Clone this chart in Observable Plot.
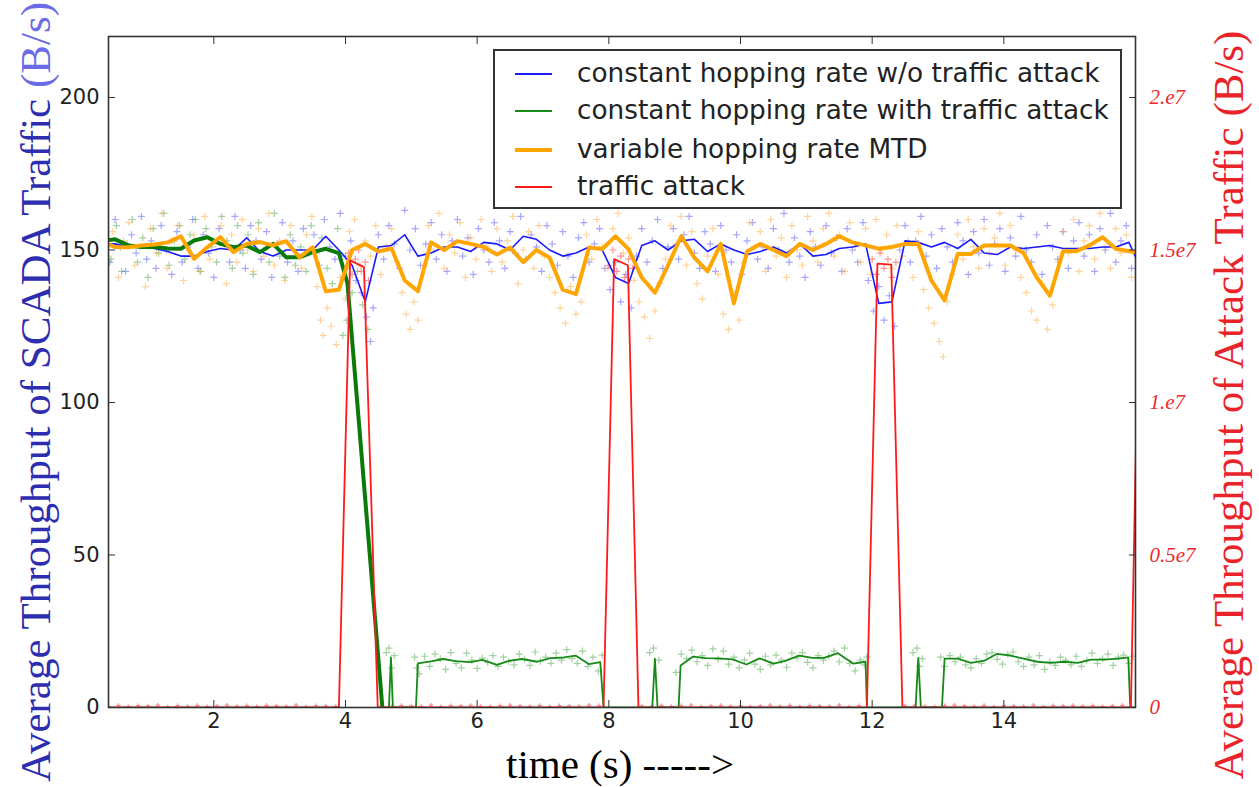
<!DOCTYPE html>
<html><head><meta charset="utf-8">
<script src="https://cdn.jsdelivr.net/npm/d3@7"></script>
<script src="https://cdn.jsdelivr.net/npm/@observablehq/plot@0.6"></script>
<style>
body{margin:0;background:#fff;}
#wrap{position:relative;width:1259px;height:787px;overflow:hidden;background:#fff;}
.lbl{position:absolute;white-space:nowrap;font-family:"Liberation Serif","Times New Roman",serif;line-height:1;}
#legend{position:absolute;left:493px;top:49px;width:629px;height:160px;box-sizing:border-box;border:2px solid #333;background:#fff;font-family:"DejaVu Sans",sans-serif;font-size:26.3px;color:#222;}
.row{position:absolute;left:0;height:0;}
.sw{position:absolute;left:20px;width:37px;}
.tx{position:absolute;left:82px;top:-16px;white-space:nowrap;line-height:30px;}
</style></head><body><div id="wrap"></div>
<script>
// ---------- data ----------
const lineTimes = [0.3,0.5,0.7,0.9,1.1,1.3,1.5,1.7,1.9,2.1,2.3,2.5,2.7,2.9,3.1,3.3,3.5,3.7,3.9,4.1,4.3,4.5,4.7,4.9,5.1,5.3,5.5,5.7,5.9,6.1,6.3,6.5,6.7,6.9,7.1,7.3,7.5,7.7,7.9,8.1,8.3,8.5,8.7,8.9,9.1,9.3,9.5,9.7,9.9,10.1,10.3,10.5,10.7,10.9,11.1,11.3,11.5,11.7,11.9,12.1,12.3,12.5,12.7,12.9,13.1,13.3,13.5,13.7,13.9,14.1,14.3,14.5,14.7,14.9,15.1,15.3,15.5,15.7,15.9,16.1];
const blueNoAttack = [152,152,151,151,150.5,149.5,148,148,149.5,150.5,150,154,149.5,148,150,150,150,154.5,150,145,133,151,151.5,155,148,149,151,151,149.5,152.5,152,150,154.5,153.5,150,148,149,151,150,141,139,151.5,153,150,153,153.5,149.5,152,150,148.5,149.5,151,149,152,148,148.5,150.5,151,152,132.5,133,153,152.5,151,152.5,150.5,153.5,149,148.5,151,150.5,151,151.5,150.5,150.5,150.5,151,151,152.5,143];
const orangeMTD = [152.5,151,150.9,151.5,151.8,152.5,154.5,147.1,150.9,154.2,149.3,152,152.6,151.5,152.9,147.6,150.9,136.5,137,150,152,149.5,150.5,140,136.5,152.5,150,152.9,152,151,148.5,150.8,146,150,147.5,137,135.5,150.8,150.3,154.5,150.3,141,136,145,154.5,147.5,143,152,132.5,149.5,152,150,148,152,150,152,154.5,152.5,151.5,150.4,151,152,152,140,133.5,148.7,148.7,151.5,151.5,151.5,149,141,135,149.6,149.6,151.5,154.2,150.4,149.6,149];
const greenThickT = [0.3,0.5,0.7,0.9,1.1,1.3,1.5,1.7,1.9,2.1,2.3,2.5,2.7,2.9,3.1,3.3,3.5,3.7,3.9,4.03,4.56];
const greenThickV = [153,153.5,151.5,151,151,150.5,150.4,153.1,154.2,152,150.9,151.5,149.3,152,147.6,147.6,149.3,150.4,149,139,0];
const greenThinT = [4.56,4.66,4.69,4.72,5.07,5.1,5.32,5.49,5.67,5.9,6.08,6.3,6.48,6.68,6.91,7.11,7.32,7.5,7.7,7.87,7.92,8.66,8.7,8.74,9.06,9.09,9.28,9.47,9.67,9.88,10.09,10.29,10.5,10.67,10.89,11.09,11.27,11.48,11.71,11.9,11.92,12.66,12.7,12.74,13.06,13.1,13.3,13.5,13.71,13.9,14.1,14.3,14.51,14.71,14.92,15.12,15.33,15.53,15.74,15.89,15.92,16.1];
const greenThinV = [0,0,16.4,0,0,14.5,15.2,15.9,15.2,14.9,15.6,14,15.3,15.9,15,16.2,16.4,17,14.2,14.9,0,0,16,0,0,13.8,16.7,16.2,16.1,15.8,14.1,16.1,14.4,15.2,17,16.3,16.3,17.8,14.4,15,0,0,16.3,0,0,16,16,14.6,15.4,17.6,17,16,15,14.6,15,14.6,15.7,15.7,16,16.4,0,0];
const attackT = [0.3,3.9,4.07,4.28,4.49,7.92,8.08,8.29,8.45,11.92,12.08,12.29,12.46,15.93,16.06];
const attackV = [0,0,1.466e7,1.444e7,0,0,1.47e7,1.45e7,0,0,1.455e7,1.452e7,0,0,1.45e7];

const blueDots = [[0.35,157],[0.42,146],[0.5,160],[0.58,151],[0.66,143],[0.75,155],[0.82,149],[0.9,161],[0.98,147],[1.05,153],[1.12,144],[1.2,158],[1.28,150],[1.36,142],[1.44,156],[1.52,146],[1.6,151],[1.68,160],[1.76,144],[1.84,155],[1.92,149],[2.0,141],[2.08,157],[2.16,152],[2.24,146],[2.32,161],[2.4,150],[2.48,144],[2.56,158],[2.64,153],[2.72,147],[2.8,156],[2.88,141],[2.96,152],[3.04,159],[3.12,146],[3.2,153],[3.28,143],[3.36,157],[3.44,149],[3.52,155],[3.6,145],[3.68,160],[3.76,151],[3.84,147],[3.92,162],[4.0,148],[4.08,153],[4.16,140],[4.24,136],[4.32,128],[4.38,120],[4.42,131],[4.5,155],[4.58,147],[4.66,158],[4.74,152],[4.82,144],[4.9,163],[4.98,150],[5.06,157],[5.14,145],[5.22,152],[5.3,159],[5.38,147],[5.46,155],[5.54,143],[5.62,153],[5.7,160],[5.78,148],[5.86,154],[5.94,142],[6.02,157],[6.1,150],[6.18,146],[6.26,159],[6.34,153],[6.42,144],[6.5,156],[6.58,149],[6.66,161],[6.74,147],[6.82,155],[6.9,151],[6.98,143],[7.06,158],[7.14,152],[7.22,145],[7.3,156],[7.38,148],[7.46,141],[7.54,154],[7.62,159],[7.7,146],[7.78,152],[7.86,157],[7.94,144],[8.02,137],[8.1,146],[8.18,133],[8.26,142],[8.34,131],[8.42,148],[8.5,157],[8.58,146],[8.66,153],[8.74,160],[8.82,144],[8.9,151],[8.98,157],[9.06,147],[9.14,155],[9.22,161],[9.3,149],[9.38,144],[9.46,156],[9.54,152],[9.62,143],[9.7,158],[9.78,150],[9.86,146],[9.94,155],[10.02,142],[10.1,153],[10.18,159],[10.26,147],[10.34,151],[10.42,144],[10.5,157],[10.58,150],[10.66,162],[10.74,146],[10.82,154],[10.9,148],[10.98,141],[11.06,156],[11.14,151],[11.22,145],[11.3,158],[11.38,149],[11.46,154],[11.54,143],[11.62,157],[11.7,150],[11.78,146],[11.86,159],[11.94,140],[12.02,130],[12.1,138],[12.18,127],[12.26,135],[12.34,125],[12.42,150],[12.5,158],[12.58,146],[12.66,153],[12.74,161],[12.82,148],[12.9,155],[12.98,144],[13.06,157],[13.14,151],[13.22,146],[13.3,159],[13.38,153],[13.46,142],[13.54,156],[13.62,149],[13.7,160],[13.78,145],[13.86,152],[13.94,157],[14.02,143],[14.1,154],[14.18,148],[14.26,161],[14.34,150],[14.42,146],[14.5,155],[14.58,142],[14.66,158],[14.74,151],[14.82,147],[14.9,156],[14.98,144],[15.06,153],[15.14,159],[15.22,148],[15.3,155],[15.38,143],[15.46,157],[15.54,150],[15.62,162],[15.7,146],[15.78,153],[15.86,158],[15.94,144]];
const orangeDots = [[0.38,148],[0.46,156],[0.55,141],[0.63,153],[0.71,159],[0.8,145],[0.88,151],[0.96,138],[1.04,157],[1.13,149],[1.21,162],[1.29,144],[1.37,153],[1.45,158],[1.54,140],[1.62,150],[1.7,155],[1.78,143],[1.86,161],[1.94,147],[2.03,152],[2.11,158],[2.19,139],[2.27,155],[2.35,146],[2.43,160],[2.51,150],[2.6,143],[2.68,157],[2.76,148],[2.84,162],[2.92,145],[3.0,153],[3.08,140],[3.17,158],[3.25,149],[3.33,144],[3.41,155],[3.49,161],[3.57,138],[3.62,127],[3.66,122],[3.72,131],[3.78,125],[3.86,119],[3.92,141],[4.0,134],[4.06,156],[4.14,160],[4.22,145],[4.3,153],[4.38,148],[4.46,158],[4.54,142],[4.62,151],[4.7,157],[4.78,146],[4.86,136],[4.92,129],[4.98,124],[5.04,133],[5.1,127],[5.18,145],[5.26,158],[5.34,150],[5.42,162],[5.5,144],[5.58,155],[5.66,149],[5.74,159],[5.82,141],[5.9,154],[5.98,147],[6.06,160],[6.14,151],[6.22,143],[6.3,157],[6.38,146],[6.46,153],[6.54,161],[6.62,139],[6.7,150],[6.78,156],[6.86,144],[6.94,158],[7.02,148],[7.1,141],[7.18,136],[7.26,131],[7.34,126],[7.42,138],[7.5,129],[7.58,133],[7.66,155],[7.74,147],[7.82,160],[7.9,151],[7.98,144],[8.06,157],[8.14,162],[8.22,149],[8.3,154],[8.38,140],[8.46,133],[8.54,128],[8.62,121],[8.7,130],[8.78,139],[8.86,147],[8.94,158],[9.02,152],[9.1,161],[9.18,145],[9.26,156],[9.34,139],[9.42,134],[9.5,148],[9.58,157],[9.66,142],[9.74,129],[9.82,124],[9.9,136],[9.98,127],[10.06,146],[10.14,159],[10.22,151],[10.3,156],[10.38,143],[10.46,160],[10.54,148],[10.62,154],[10.7,141],[10.78,158],[10.86,150],[10.94,145],[11.02,161],[11.1,153],[11.18,146],[11.26,157],[11.34,162],[11.42,148],[11.5,155],[11.58,143],[11.66,159],[11.74,151],[11.82,146],[11.9,157],[11.98,142],[12.06,160],[12.14,150],[12.22,155],[12.3,144],[12.38,158],[12.46,148],[12.54,153],[12.62,141],[12.7,156],[12.78,137],[12.86,131],[12.94,126],[13.02,120],[13.08,115],[13.14,133],[13.22,142],[13.3,155],[13.38,147],[13.46,160],[13.54,151],[13.62,144],[13.7,157],[13.78,149],[13.86,154],[13.94,162],[14.02,145],[14.1,158],[14.18,150],[14.26,141],[14.34,136],[14.42,130],[14.5,127],[14.58,139],[14.66,124],[14.74,132],[14.82,146],[14.9,156],[14.98,149],[15.06,160],[15.14,143],[15.22,153],[15.3,158],[15.38,147],[15.46,162],[15.54,151],[15.62,144],[15.7,157],[15.78,149],[15.86,155],[15.94,141]];
const greenDots = [[0.36,155],[0.44,147],[0.52,158],[0.6,143],[0.68,152],[0.76,160],[0.84,146],[0.92,154],[1.0,141],[1.08,157],[1.16,149],[1.24,162],[1.32,145],[1.4,153],[1.48,158],[1.56,147],[1.64,155],[1.72,160],[1.8,143],[1.88,157],[1.96,151],[2.04,146],[2.12,161],[2.2,153],[2.28,144],[2.36,158],[2.44,149],[2.52,155],[2.6,142],[2.68,159],[2.76,150],[2.84,146],[2.92,162],[3.0,148],[3.08,141],[3.16,155],[3.24,145],[3.32,151],[3.4,143],[3.48,158],[3.56,149],[3.64,154],[3.72,144],[3.8,139],[3.88,157],[3.96,122],[4.02,127],[4.1,136],[4.18,143],[4.26,132],[4.34,124],
[4.62,18],[4.66,19.5],[4.7,13],[4.74,17],[5.05,16.5],[5.08,13],[5.12,11],[5.2,16.8],[5.28,13.5],[5.36,17.5],[5.44,16],[5.52,12.5],[5.6,18],[5.68,14.5],[5.76,13],[5.84,17.8],[5.92,15.5],[6.0,12.8],[6.08,16.2],[6.16,14.8],[6.24,17],[6.32,13.5],[6.4,16.5],[6.48,15],[6.56,14],[6.64,17.5],[6.72,15.8],[6.8,13.8],[6.88,18.2],[6.96,15.2],[7.04,16.5],[7.12,14.5],[7.2,17.8],[7.28,15.5],[7.36,19],[7.44,16],[7.52,14.5],[7.6,18.5],[7.68,13.5],[7.76,16.5],[7.84,12],[7.9,17.2],
[8.62,18],[8.68,19.5],[8.76,15.5],[9.02,11.5],[9.1,17.5],[9.18,16],[9.26,18.8],[9.34,15],[9.42,17],[9.5,13.8],[9.58,19.2],[9.66,15.8],[9.74,18.5],[9.82,14.2],[9.9,16.5],[9.98,13],[10.06,15.5],[10.14,17.8],[10.22,14.2],[10.3,12.5],[10.38,16.8],[10.46,14],[10.54,17.2],[10.62,15.5],[10.7,13.2],[10.78,17.8],[10.86,16.2],[10.94,18],[11.02,14.8],[11.1,13],[11.18,17],[11.26,15.5],[11.34,16.8],[11.42,18.5],[11.5,15],[11.58,19.5],[11.66,14.5],[11.74,12],[11.82,15.5],[11.88,14],[11.92,16.5],
[12.62,18],[12.68,19.5],[12.72,13.5],[12.76,16],[13.04,16.5],[13.1,13.5],[13.18,17],[13.26,15],[13.34,16.5],[13.42,14],[13.5,13],[13.58,16],[13.66,14.5],[13.74,17.5],[13.82,18],[13.9,15.8],[13.98,14.2],[14.06,17.5],[14.14,18.2],[14.22,15],[14.3,13.5],[14.38,16.5],[14.46,14],[14.54,17],[14.62,12.5],[14.7,15],[14.78,13.8],[14.86,16.5],[14.94,15.5],[15.02,14],[15.1,16.8],[15.18,13.5],[15.26,15.5],[15.34,17.8],[15.42,14.5],[15.5,16],[15.58,17.5],[15.66,13.8],[15.74,16.5],[15.82,17.2],[15.9,14.5],[15.96,16.8]];
const redPeakDots = [[4.0,1.44e7],[4.05,1.49e7],[4.1,1.42e7],[4.15,1.47e7],[4.2,1.5e7],[4.24,1.43e7],[4.3,1.46e7],[4.35,1.4e7],[8.0,1.45e7],[8.06,1.5e7],[8.12,1.43e7],[8.18,1.48e7],[8.24,1.41e7],[8.3,1.47e7],[8.36,1.44e7],[12.0,1.47e7],[12.06,1.42e7],[12.12,1.49e7],[12.18,1.44e7],[12.24,1.47e7],[12.3,1.41e7],[12.36,1.46e7]];
const redBaseT = [0.4,0.55,0.7,0.85,1.0,1.15,1.3,1.45,1.6,1.75,1.9,2.05,2.2,2.35,2.5,2.65,2.8,2.95,3.1,3.25,3.4,3.55,3.7,3.85,4.55,4.7,4.85,5.0,5.15,5.3,5.45,5.6,5.75,5.9,6.05,6.2,6.35,6.5,6.65,6.8,6.95,7.1,7.25,7.4,7.55,7.7,7.85,8.5,8.65,8.8,8.95,9.1,9.25,9.4,9.55,9.7,9.85,10.0,10.15,10.3,10.45,10.6,10.75,10.9,11.05,11.2,11.35,11.5,11.65,11.8,12.5,12.65,12.8,12.95,13.1,13.25,13.4,13.55,13.7,13.85,14.0,14.15,14.3,14.45,14.6,14.75,14.9,15.05,15.2,15.35,15.5,15.65,15.8];
const redBaseV = [4e4,7e4,3e4,6e4,5e4,8e4,2e4,6e4,4e4,7e4,3e4,5e4,8e4,4e4,6e4,3e4,7e4,5e4,4e4,8e4,3e4,6e4,5e4,4e4,6e4,3e4,7e4,5e4,4e4,8e4,3e4,6e4,5e4,7e4,4e4,3e4,6e4,8e4,5e4,4e4,7e4,3e4,6e4,5e4,4e4,8e4,6e4,5e4,3e4,7e4,4e4,6e4,8e4,3e4,5e4,7e4,4e4,6e4,3e4,5e4,8e4,4e4,7e4,3e4,6e4,5e4,4e4,8e4,3e4,6e4,5e4,7e4,4e4,3e4,6e4,8e4,5e4,4e4,7e4,3e4,6e4,5e4,4e4,8e4,3e4,6e4,5e4,7e4,4e4,6e4,3e4,5e4,7e4];

const xTicks = [2,4,6,8,10,12,14];
const yTicks = [0,50,100,150,200];
const rightTickVals = [0,0.5e7,1e7,1.5e7,2e7];
const rightTickLabels = ["0","0.5e7","1.e7","1.5e7","2.e7"];
const RATIO = 1e5; // 1e7 B/s on the right axis == 100 B/s on the left axis

const seriesNames = ["constant hopping rate w/o traffic attack","constant hopping rate with traffic attack","variable hopping rate MTD","traffic attack"];
const seriesColors = ["#1a1aff","#158a15","#ffa500","#ff1a1a"];

// ---------- build ----------
const blueRows = lineTimes.map((t,i)=>({t, v: blueNoAttack[i]}));
const orangeRows = lineTimes.map((t,i)=>({t, v: orangeMTD[i]}));
const gThick = greenThickT.map((t,i)=>({t, v: greenThickV[i]}));
const gThin = greenThinT.map((t,i)=>({t, v: greenThinV[i]}));
const attackRows = attackT.map((t,i)=>({t, v: attackV[i]/RATIO}));
const redPeaks = redPeakDots.map(d=>[d[0], d[1]/RATIO]);
const redBase = redBaseT.map((t,i)=>[t, redBaseV[i]/RATIO]);
const rightLabelFor = new Map(rightTickVals.map((v,i)=>[v/RATIO, rightTickLabels[i]]));

const dotOpts = (color, op, r = 2.4) => ({x: d=>d[0], y: d=>d[1], symbol: "plus", r, stroke: color, strokeOpacity: op, strokeWidth: 1.2, clip: true});

const chart = Plot.plot({
  width: 1259, height: 787,
  marginTop: 36, marginRight: 124, marginBottom: 80, marginLeft: 108,
  x: {domain: [0.4, 16]},
  y: {domain: [0, 220]},
  style: {fontFamily: "DejaVu Sans, sans-serif", color: "#222", background: "white"},
  marks: [
    Plot.dot(blueDots, dotOpts("#4d4dff", 0.5)),
    Plot.dot(greenDots, dotOpts("#2e9a2e", 0.45)),
    Plot.dot(orangeDots, dotOpts("#ffa733", 0.5)),
    Plot.dot(redPeaks, dotOpts("#ff3030", 0.5)),
    Plot.dot(redBase, dotOpts("#ff3030", 0.55, 1.5)),
    Plot.line(blueRows, {x: "t", y: "v", stroke: seriesColors[0], strokeWidth: 1.6, clip: true}),
    Plot.line(gThin, {x: "t", y: "v", stroke: seriesColors[1], strokeWidth: 1.8, clip: true}),
    Plot.line(gThick, {x: "t", y: "v", stroke: "#0a7a0a", strokeWidth: 4, clip: true}),
    Plot.line(orangeRows, {x: "t", y: "v", stroke: seriesColors[2], strokeWidth: 4, clip: true}),
    Plot.line(attackRows, {x: "t", y: "v", stroke: seriesColors[3], strokeWidth: 1.8, clip: true}),
    Plot.frame({stroke: "#333", strokeWidth: 1.6}),
    Plot.axisX({ticks: xTicks, anchor: "bottom", tickSize: 0, tickPadding: 6, label: null, fill: "#222"}),
    Plot.axisX({ticks: xTicks, anchor: "bottom", tickSize: -7, tickFormat: () => "", label: null, stroke: "#333"}),
    Plot.axisX({ticks: xTicks, anchor: "top", tickSize: -7, tickFormat: () => "", label: null, stroke: "#333"}),
    Plot.axisY({ticks: yTicks, anchor: "left", tickSize: 0, tickPadding: 9, label: null, fill: "#222"}),
    Plot.axisY({ticks: yTicks, anchor: "left", tickSize: -7, tickFormat: () => "", label: null, stroke: "#333"}),
    Plot.axisY({ticks: yTicks, anchor: "right", tickSize: -7, tickFormat: () => "", label: null, stroke: "#333"}),
    Plot.axisY({ticks: rightTickVals.map(v => v/RATIO), anchor: "right", tickSize: 0, tickPadding: 14, label: null,
      tickFormat: d => rightLabelFor.get(d), fill: "#ee2a2a", fontStyle: "italic", fontFamily: "Liberation Serif, serif", fontSize: 21})
  ]
});

// size of the sans tick labels (inline style wins over any stylesheet)
d3.select(chart).selectAll('g[aria-label="x-axis tick label"] text').style("font-size", "21px");
d3.select(chart).selectAll('g[aria-label="y-axis tick label"]').filter(function(){ return this.getAttribute("font-style") !== "italic"; }).selectAll("text").style("font-size", "21px");

const wrap = document.getElementById("wrap");
wrap.appendChild(chart);

// legend
const legend = document.createElement("div");
legend.id = "legend";
const rowY = [23, 60, 99, 136];
const swW = [2, 2, 4.5, 2];
seriesNames.forEach((name, i) => {
  const row = document.createElement("div");
  row.className = "row";
  row.style.top = rowY[i] + "px";
  const sw = document.createElement("div");
  sw.className = "sw";
  sw.style.height = swW[i] + "px";
  sw.style.top = (-swW[i]/2) + "px";
  sw.style.background = seriesColors[i];
  const tx = document.createElement("div");
  tx.className = "tx";
  tx.textContent = name;
  row.appendChild(sw); row.appendChild(tx);
  legend.appendChild(row);
});
wrap.appendChild(legend);

// axis titles
function label(html, cx, cy, size, color, rotate) {
  const d = document.createElement("div");
  d.className = "lbl";
  d.innerHTML = html;
  d.style.left = cx + "px";
  d.style.top = cy + "px";
  d.style.fontSize = size + "px";
  d.style.color = color;
  d.style.transform = "translate(-50%,-50%)" + (rotate ? " rotate(-90deg)" : "");
  wrap.appendChild(d);
}
label('Average Throughput of SCADA Traffic <span style="color:#6b6be6">(B/s)</span>', 35, 392, 43, "#2d2db0", true);
label('Average Throughput of Attack Traffic (B/s)', 1228, 405, 43, "#ea2328", true);
label('time (s) -----&gt;', 620, 764, 41, "#000", false);
</script></body></html>
